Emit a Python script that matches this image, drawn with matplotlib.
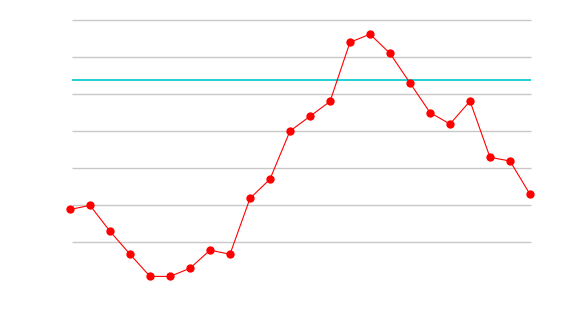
import matplotlib
matplotlib.use("Agg")
import matplotlib.pyplot as plt

# Series values
x = list(range(24))
y = [8.8, 9.9, 2.9, -3.3, -9.3, -9.3, -7.1, -2.2, -3.3, 11.8, 17.0, 30.0,
     34.0, 38.0, 54.0, 56.2, 51.0, 43.0, 35.0, 31.9, 38.1, 22.9, 21.9, 12.9]
ref_level = 43.7
grid_levels = [0, 10, 20, 30, 40, 50, 60]

fig = plt.figure(figsize=(5.7, 3.2), dpi=100)
ax = fig.add_axes([70 / 570, 0.0703, 460 / 570, 0.890])

# gridlines start slightly right of the first point
ax.hlines(grid_levels, 0.1, 23.05, color="#c8c8c8", linewidth=1.0,
          zorder=1, clip_on=False)
ax.hlines(ref_level, 0.1, 23.05, color="#00c8c8", linewidth=1.2,
          zorder=2, clip_on=False)

ax.plot(x, y, color="red", linewidth=0.8, marker="o", markersize=6,
        markeredgewidth=0, clip_on=False, zorder=3)

ax.set_xlim(0, 23)
ax.set_ylim(-15, 62)
ax.set_xticks([])
ax.set_yticks([])
for s in ax.spines.values():
    s.set_visible(False)

fig.savefig("out.png", dpi=100)
